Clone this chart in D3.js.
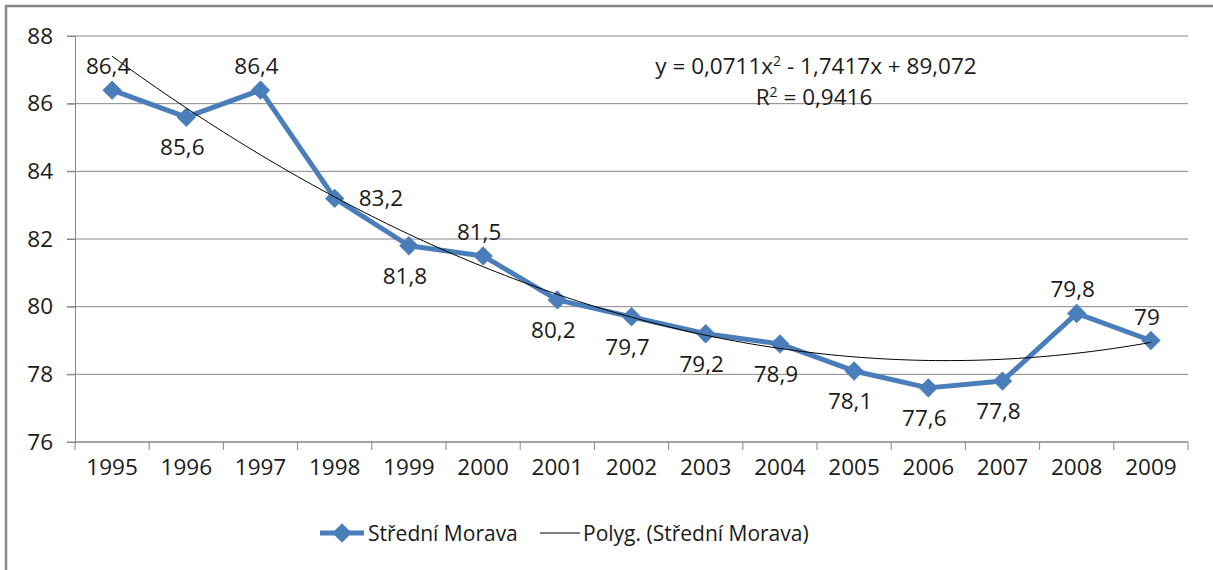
<!DOCTYPE html>
<html>
<head>
<meta charset="utf-8">
<script src="https://cdn.jsdelivr.net/npm/d3@7"></script>
<style>
  body { margin: 0; background: #fff; }
  text { font-family: "Open Sans", "Noto Sans", sans-serif; fill: #1a1a1a; }
</style>
</head>
<body>
<script>
const years = ["1995", "1996", "1997", "1998", "1999", "2000", "2001", "2002",
  "2003", "2004", "2005", "2006", "2007", "2008", "2009"];
const values = [86.4, 85.6, 86.4, 83.2, 81.8, 81.5, 80.2, 79.7, 79.2, 78.9, 78.1, 77.6, 77.8, 79.8, 79];
const labelSides = ["above", "below", "above", "right", "below", "above", "below", "below",
  "below", "below", "below", "below", "below", "above", "above"];
const yTicks = [76, 78, 80, 82, 84, 86, 88];
// trendline coefficients as shown on the chart (x = 1..15)
const trendCoef = [0.0711, -1.7417, 89.072];
const seriesName = "Střední Morava";
const trendName = "Polyg. (Střední Morava)";

const width = 1213, height = 570;
const margin = { top: 36, right: 25, bottom: 128, left: 75 };
const blue = "#4a7ebb";
const grey = "#868686";
const fontSize = 22.5;

const svg = d3.select("body").append("svg")
  .attr("width", width)
  .attr("height", height);

// chart area border (only top and left are visible in the picture)
svg.append("rect")
  .attr("x", 6).attr("y", 6)
  .attr("width", width + 10).attr("height", height + 10)
  .attr("fill", "none")
  .attr("stroke", grey)
  .attr("stroke-width", 2.5);

const x = d3.scaleBand()
  .domain(years)
  .range([margin.left, width - margin.right]);

const y = d3.scaleLinear()
  .domain([76, 88])
  .range([height - margin.bottom, margin.top]);

// gridlines
svg.append("g")
  .selectAll("line")
  .data(yTicks)
  .join("line")
  .attr("x1", margin.left - 8)
  .attr("x2", width - margin.right)
  .attr("y1", (d) => y(d))
  .attr("y2", (d) => y(d))
  .attr("stroke", grey)
  .attr("stroke-width", 1);

// y axis
const yAxis = svg.append("g")
  .attr("transform", `translate(${margin.left},0)`)
  .call(d3.axisLeft(y).tickValues(yTicks).tickSize(8).tickPadding(14));
yAxis.select(".domain").attr("stroke", grey);
yAxis.selectAll(".tick line").attr("stroke", grey);
yAxis.selectAll(".tick text")
  .attr("font-size", fontSize)
  .attr("fill", "#1a1a1a")
  .style("font-family", "'Open Sans', sans-serif");

// x axis: ticks on the category boundaries
const xAxisG = svg.append("g")
  .attr("transform", `translate(0,${y(76)})`);
xAxisG.append("line")
  .attr("x1", margin.left).attr("x2", width - margin.right)
  .attr("stroke", grey);
const bounds = years.map((d) => x(d)).concat([x.range()[1]]);
xAxisG.selectAll("line.tk")
  .data(bounds)
  .join("line")
  .attr("class", "tk")
  .attr("x1", (d) => d).attr("x2", (d) => d)
  .attr("y1", 0).attr("y2", 8)
  .attr("stroke", grey);
xAxisG.selectAll("text")
  .data(years)
  .join("text")
  .attr("x", (d) => x(d) + x.bandwidth() / 2)
  .attr("y", 33)
  .attr("text-anchor", "middle")
  .attr("font-size", fontSize)
  .text((d) => d);

const cx = (i) => x(years[i]) + x.bandwidth() / 2;

// polynomial trendline
const trendPts = d3.range(0, years.length - 1 + 0.001, 0.1).map((t) => {
  const k = t + 1;
  return [x(years[0]) + x.bandwidth() / 2 + t * x.step(),
    y(trendCoef[0] * k * k + trendCoef[1] * k + trendCoef[2])];
});

// series line
svg.append("path")
  .datum(values)
  .attr("fill", "none")
  .attr("stroke", blue)
  .attr("stroke-width", 5)
  .attr("stroke-linejoin", "round")
  .attr("d", d3.line().x((d, i) => cx(i)).y((d) => y(d)));

// markers
const diamond = d3.symbol().type(d3.symbolDiamond2).size(240);
svg.append("g")
  .selectAll("path")
  .data(values)
  .join("path")
  .attr("transform", (d, i) => `translate(${cx(i)},${y(d)})`)
  .attr("d", diamond)
  .attr("fill", blue);

svg.append("path")
  .attr("fill", "none")
  .attr("stroke", "#000")
  .attr("stroke-width", 1)
  .attr("d", d3.line()(trendPts));

// data labels
const fmt = (v) => String(v).replace(".", ",");
svg.append("g")
  .selectAll("text")
  .data(values)
  .join("text")
  .attr("font-size", fontSize)
  .attr("text-anchor", (d, i) => labelSides[i] === "right" ? "start" : "middle")
  .attr("x", (d, i) => labelSides[i] === "right" ? cx(i) + 24 : cx(i) - 4)
  .attr("y", (d, i) => {
    const py = y(d);
    if (labelSides[i] === "above") return py - 16;
    if (labelSides[i] === "below") return py + 38;
    return py + 8;
  })
  .text(fmt);

// trendline equation
const eq = svg.append("g").attr("font-size", fontSize).attr("text-anchor", "middle");
const eq1 = eq.append("text").attr("x", 816).attr("y", 74);
eq1.append("tspan").text("y = 0,0711x");
eq1.append("tspan").attr("font-size", 14).attr("dy", -8).text("2");
eq1.append("tspan").attr("dy", 8).text(" - 1,7417x + 89,072");
const eq2 = eq.append("text").attr("x", 814).attr("y", 105);
eq2.append("tspan").text("R");
eq2.append("tspan").attr("font-size", 14).attr("dy", -8).text("2");
eq2.append("tspan").attr("dy", 8).text(" = 0,9416");

// legend
const leg = svg.append("g").attr("transform", "translate(0,533)");
leg.append("line")
  .attr("x1", 320).attr("x2", 364)
  .attr("stroke", blue).attr("stroke-width", 5);
leg.append("path")
  .attr("transform", "translate(342,0)")
  .attr("d", diamond)
  .attr("fill", blue);
leg.append("text")
  .attr("x", 368).attr("y", 8)
  .attr("font-size", 21)
  .text(seriesName);
leg.append("line")
  .attr("x1", 540).attr("x2", 580)
  .attr("stroke", "#000").attr("stroke-width", 1);
leg.append("text")
  .attr("x", 583).attr("y", 8)
  .attr("font-size", 21)
  .text(trendName);
</script>
</body>
</html>
